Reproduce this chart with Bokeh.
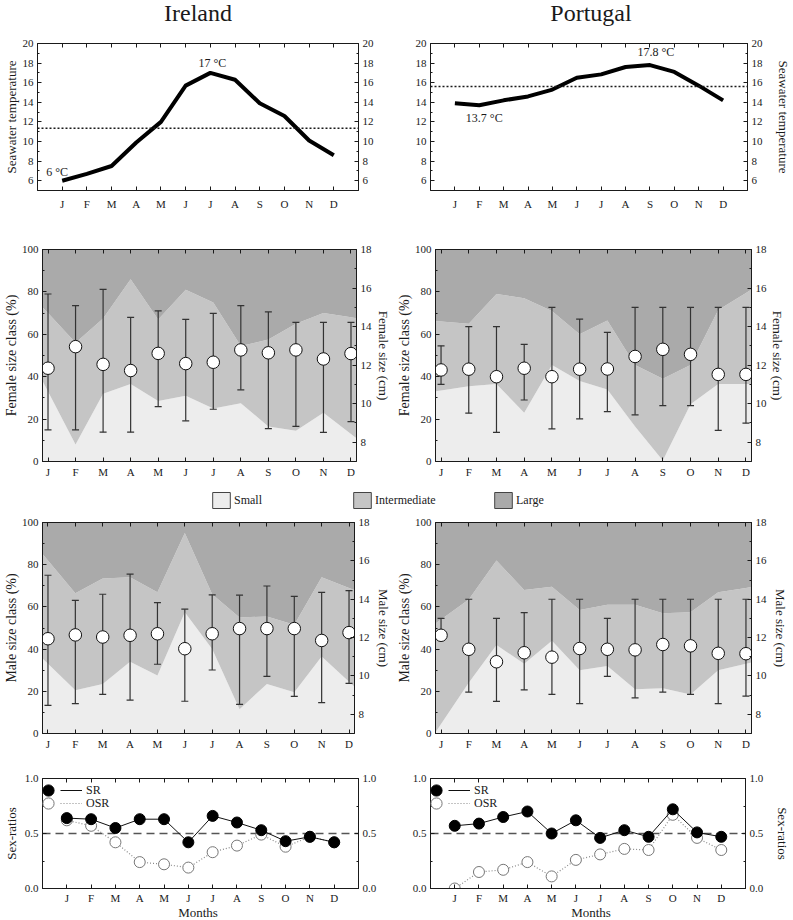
import numpy as np
from bokeh.plotting import figure
from bokeh.models import (LinearAxis, FixedTicker, Range1d, Span, Label, Legend,
                          LegendItem, NumeralTickFormatter)
from bokeh.layouts import column, row
from bokeh.embed import file_html
from bokeh.resources import INLINE

# ---------------------------------------------------------------- data
months = ["J", "F", "M", "A", "M", "J", "J", "A", "S", "O", "N", "D"]
month_no = list(range(1, 13))
countries = ["Ireland", "Portugal"]
size_classes = ["Small", "Intermediate", "Large"]

# seawater temperature (deg C)
temp_ireland = [6.0, 6.7, 7.5, 9.9, 12.0, 15.7, 17.0, 16.3, 13.9, 12.6, 10.1, 8.6]
temp_portugal = [13.9, 13.7, 14.2, 14.6, 15.3, 16.5, 16.85, 17.6, 17.8, 17.1, 15.7, 14.2]
temp_mean_ireland = 11.35
temp_mean_portugal = 15.6

# size-class composition (%) : small, intermediate, large
fem_ire_small = [33, 8, 32, 36.5, 28.5, 31, 25, 27.5, 16.5, 14.5, 23, 13]
fem_ire_inter = [37, 48, 35.5, 49.5, 38.5, 50, 50, 27, 41, 50.5, 47, 55]
fem_ire_large = [30, 44, 32.5, 14, 33, 19, 25, 45.5, 42.5, 35, 30, 32]

fem_por_small = [33.5, 35.5, 36.5, 23, 45.5, 38, 34, 16.5, 0.5, 27, 36.5, 36.5]
fem_por_inter = [32.5, 29.5, 42.5, 54, 25.5, 22, 32.5, 29, 38.5, 18.5, 35, 43]
fem_por_large = [34, 35, 21, 23, 29, 40, 33.5, 54.5, 61, 54.5, 28.5, 20.5]

mal_ire_small = [33, 20.5, 23.5, 34, 27.5, 57.5, 40, 11.5, 23.5, 19.5, 36.5, 24.5]
mal_ire_inter = [49, 46, 50, 40, 39.5, 37.5, 26, 43.5, 32, 32, 37.5, 44.5]
mal_ire_large = [18, 33.5, 26.5, 26, 33, 5, 34, 45, 44.5, 48.5, 26, 31]

mal_por_small = [4.5, 24, 42, 33, 44, 30, 32, 21, 21.5, 18.5, 30, 33]
mal_por_inter = [49.5, 39.5, 40, 35, 25.5, 28.5, 29, 40, 35.5, 39, 37, 36]
mal_por_large = [46, 36.5, 18, 32, 30.5, 41.5, 39, 39, 43, 42.5, 33, 31]

# mean size (cm) with range
fem_ire_mean = [11.84, 12.96, 12.04, 11.72, 12.61, 12.08, 12.15, 12.79, 12.64, 12.79, 12.32, 12.6]
fem_ire_upper = [15.69, 15.09, 15.93, 14.48, 14.82, 14.37, 14.69, 15.09, 14.76, 14.22, 14.22, 14.22]
fem_ire_lower = [8.64, 8.64, 8.52, 8.52, 9.85, 9.11, 9.71, 10.72, 8.71, 8.82, 8.51, 9.07]

fem_por_mean = [11.75, 11.79, 11.4, 11.84, 11.4, 11.79, 11.8, 12.45, 12.82, 12.56, 11.52, 11.52]
fem_por_upper = [13.0, 14.0, 14.0, 13.08, 15.0, 14.39, 13.7, 15.0, 15.0, 15.0, 15.0, 15.0]
fem_por_lower = [11.0, 9.51, 8.51, 10.19, 8.69, 9.21, 9.59, 9.42, 9.9, 9.9, 8.61, 8.99]

mal_ire_mean = [11.94, 12.14, 12.03, 12.12, 12.2, 11.42, 12.2, 12.47, 12.47, 12.47, 11.85, 12.26]
mal_ire_upper = [15.25, 13.94, 14.26, 15.31, 13.82, 13.48, 14.23, 14.21, 14.69, 14.15, 14.36, 14.45]
mal_ire_lower = [8.47, 8.56, 9.04, 8.74, 10.61, 8.68, 10.31, 8.52, 9.98, 8.94, 8.61, 9.61]

mal_por_mean = [12.12, 11.39, 10.74, 11.21, 10.98, 11.43, 11.39, 11.36, 11.64, 11.57, 11.18, 11.16]
mal_por_upper = [13.0, 14.0, 13.0, 13.3, 14.0, 14.0, 13.0, 14.0, 14.0, 14.0, 14.0, 14.0]
mal_por_lower = [12.0, 9.16, 8.67, 9.27, 9.04, 8.56, 9.98, 8.86, 9.16, 9.04, 8.56, 8.95]

# sex ratios
sr_ireland = [0.64, 0.63, 0.55, 0.63, 0.63, 0.42, 0.66, 0.60, 0.53, 0.43, 0.47, 0.42]
osr_ireland = [0.62, 0.57, 0.42, 0.24, 0.22, 0.19, 0.33, 0.39, 0.49, 0.38, 0.47, 0.42]
sr_portugal = [0.57, 0.59, 0.65, 0.70, 0.50, 0.62, 0.46, 0.53, 0.47, 0.72, 0.51, 0.47]
osr_portugal = [0.0, 0.15, 0.17, 0.24, 0.11, 0.26, 0.31, 0.36, 0.35, 0.67, 0.46, 0.35]

# ---------------------------------------------------------------- style
SERIF = "Liberation Serif"
INK = "#1a1a1a"
BAR = "#333333"
C_CLASS = ["#ededed", "#c5c5c5", "#aaaaaa"]
WIDTHS = [393, 400]
BORDER_L = 37
BORDERS = [dict(min_border_left=BORDER_L, min_border_right=35),
           dict(min_border_left=BORDER_L, min_border_right=42)]
FRAME_W = 321
# horizontal centre of each column's plot frame, in page pixels
FRAME_CX = [BORDER_L + FRAME_W / 2, WIDTHS[0] + BORDER_L + FRAME_W / 2]
XLO, XHI = 0.8, 12.2
month_labels = {m: t for m, t in zip(month_no, months)}


def base_figure(ci, height, top, bottom, x_range, y_range, **kw):
    p = figure(width=WIDTHS[ci], height=height, x_range=x_range, y_range=y_range,
               x_axis_type=None, y_axis_type=None, toolbar_location=None,
               output_backend="svg", min_border_top=top, min_border_bottom=bottom,
               **BORDERS[ci], **kw)
    p.outline_line_color = INK
    p.outline_line_width = 1
    p.background_fill_color = "white"
    p.border_fill_color = "white"
    return p


def add_axis(p, side, ticks, minor=(), overrides=None, labels=True, range_name=None,
             label=None, label_standoff=4, label_size="13px", fmt=None, tick_standoff=4):
    kw = {}
    if range_name:
        kw["y_range_name"] = range_name
    ax = LinearAxis(ticker=FixedTicker(ticks=list(ticks), minor_ticks=list(minor)), **kw)
    ax.axis_line_color = INK
    ax.major_tick_line_color = INK
    ax.minor_tick_line_color = INK
    ax.major_tick_in = 4
    ax.major_tick_out = 0
    ax.minor_tick_in = 2
    ax.minor_tick_out = 0
    ax.major_label_text_font = SERIF
    ax.major_label_text_font_size = "11px"
    ax.major_label_text_color = INK if labels else None
    ax.major_label_standoff = tick_standoff if labels else 0
    if overrides:
        ax.major_label_overrides = overrides
    if fmt is not None:
        ax.formatter = fmt
    if label:
        ax.axis_label = label
        ax.axis_label_text_font = SERIF
        ax.axis_label_text_font_size = label_size
        ax.axis_label_text_font_style = "normal"
        ax.axis_label_standoff = label_standoff
        ax.axis_label_text_color = INK
    p.add_layout(ax, side)
    return ax


def text_strip(height, texts, y, size):
    """A frame-only strip carrying one text centred above/below each column."""
    p = figure(width=sum(WIDTHS), height=height, x_range=Range1d(0, 1), y_range=Range1d(0, 1),
               x_axis_type=None, y_axis_type=None, toolbar_location=None,
               output_backend="svg", min_border=0)
    p.outline_line_color = None
    for cx, t in zip(FRAME_CX, texts):
        p.add_layout(Label(x=cx, y=y, x_units="screen", y_units="screen", text=t,
                           text_align="center", text_baseline="middle",
                           text_font=SERIF, text_font_size=size, text_color=INK))
    return p


# ---------------------------------------------------------------- temperature
TEMP_NOTES = {  # (x_offset, y_offset, baseline) for min / max annotations
    0: {"min": (-5, 2, "bottom"), "max": (2, 3, "bottom")},
    1: {"min": (5, -6, "top"), "max": (6, 6, "bottom")},
}


def temp_panel(ci, temps, tmean):
    p = base_figure(ci, 190, 13, 30, Range1d(0, 13), Range1d(5, 20))
    add_axis(p, "below", month_no, overrides=month_labels, tick_standoff=7)
    add_axis(p, "above", month_no, labels=False)
    add_axis(p, "left", range(6, 21, 2), minor=range(7, 20, 2),
             label="Seawater temperature" if ci == 0 else None, label_standoff=1)
    add_axis(p, "right", range(6, 21, 2), minor=range(7, 20, 2),
             label="Seawater temperature" if ci == 1 else None, label_standoff=10)
    p.add_layout(Span(location=tmean, dimension="width", line_color=INK,
                      line_dash="2 2", line_width=1.5))
    p.line(month_no, temps, line_color="black", line_width=4, line_join="round")
    for kind, idx in (("min", int(np.argmin(temps))), ("max", int(np.argmax(temps)))):
        dx, dy, base = TEMP_NOTES[ci][kind]
        p.add_layout(Label(x=month_no[idx], y=temps[idx], text=f"{temps[idx]:g} \u00b0C",
                           x_offset=dx, y_offset=dy, text_align="center", text_baseline=base,
                           text_font=SERIF, text_font_size="12px", text_color=INK))
    return p


# ---------------------------------------------------------------- size panels
def extend(v):
    v = list(v)
    first = v[0] + (v[0] - v[1]) * (1 - XLO)
    last = v[-1] + (v[-1] - v[-2]) * (XHI - 12)
    return np.clip([first] + v + [last], 0, 100)


def size_panel(ci, height, top, bottom, sex, small, inter, mean, upper, lower, rstand):
    p = base_figure(ci, height, top, bottom, Range1d(XLO, XHI), Range1d(0, 100),
                    extra_y_ranges={"cm": Range1d(7, 18)})
    add_axis(p, "below", month_no, overrides=month_labels, tick_standoff=4)
    add_axis(p, "above", month_no, labels=False)
    add_axis(p, "left", range(0, 101, 20), minor=range(10, 100, 20),
             label=f"{sex} size class (%)", label_standoff=0, label_size="14px")
    add_axis(p, "right", range(8, 19, 2), minor=range(9, 18, 2), range_name="cm",
             label=f"{sex} size (cm)", label_standoff=rstand, label_size="13px")
    xa = [XLO] + month_no + [XHI]
    s = extend(small)
    t = extend(np.array(small) + np.array(inter))
    p.varea(x=xa, y1=np.zeros(len(xa)), y2=s, fill_color=C_CLASS[0])
    p.varea(x=xa, y1=s, y2=t, fill_color=C_CLASS[1])
    p.varea(x=xa, y1=t, y2=np.full(len(xa), 100.0), fill_color=C_CLASS[2])
    p.segment(x0=month_no, y0=lower, x1=month_no, y1=upper, y_range_name="cm",
              line_color=BAR, line_width=1.2)
    for ends in (upper, lower):
        p.scatter(month_no, ends, marker="dash", size=7, line_color=BAR,
                  line_width=1.2, y_range_name="cm")
    p.scatter(month_no, mean, marker="circle", size=12.5, fill_color="white",
              line_color="#111111", line_width=1, y_range_name="cm")
    return p


# ---------------------------------------------------------------- sex ratio
def key_legend(renderer, text, loc, glyph_width, standoff):
    return Legend(items=[LegendItem(label=text, renderers=[renderer])], location=loc,
                  padding=0, margin=0, spacing=0, glyph_width=glyph_width, glyph_height=28,
                  label_standoff=standoff, label_width=0,
                  border_line_alpha=0, background_fill_alpha=0,
                  label_text_font=SERIF, label_text_font_size="12px",
                  label_text_color=INK)


def sr_panel(ci, sr, osr):
    p = base_figure(ci, 146, 18, 18, Range1d(0, 13), Range1d(0, 1))
    add_axis(p, "below", month_no, overrides=month_labels, tick_standoff=3)
    add_axis(p, "above", month_no, labels=False)
    add_axis(p, "left", [0, 0.5, 1], minor=[0.25, 0.75], fmt=NumeralTickFormatter(format="0.0"),
             label="Sex-ratios" if ci == 0 else None, label_standoff=3)
    add_axis(p, "right", [0, 0.5, 1], minor=[0.25, 0.75], fmt=NumeralTickFormatter(format="0.0"),
             label="Sex-ratios" if ci == 1 else None, label_standoff=9)
    p.add_layout(Span(location=0.5, dimension="width", line_color="#555555",
                      line_dash="8 5", line_width=1.3, level="underlay"))
    osr_line = p.line(month_no, osr, line_color="#8a8a8a", line_dash="1 2", line_width=1.2)
    osr_pts = p.scatter(month_no, osr, size=11, fill_color="white", line_color="#777777",
                        line_width=1)
    sr_line = p.line(month_no, sr, line_color="#111111", line_width=1)
    sr_pts = p.scatter(month_no, sr, size=11, fill_color="black", line_color="black")
    p.add_layout(key_legend(sr_pts, "", (-8, 84), 28, 0))
    p.add_layout(key_legend(osr_pts, "", (-8, 71), 28, 0))
    p.add_layout(key_legend(sr_line, "SR", (18, 84), 22, 4))
    p.add_layout(key_legend(osr_line, "OSR", (18, 71), 22, 4))
    return p


# ---------------------------------------------------------------- legend strip
def class_legend():
    p = figure(width=sum(WIDTHS), height=30, x_range=Range1d(0, 1), y_range=Range1d(0, 1),
               x_axis_type=None, y_axis_type=None, toolbar_location=None,
               output_backend="svg", min_border=0)
    p.outline_line_color = None
    items = []
    for name, col in zip(size_classes, C_CLASS):
        # key-only renderer: a zero-size quad outside the visible range
        r = p.quad(left=[2], right=[2], top=[2], bottom=[2], fill_color=col,
                   line_color="#444444", line_width=1)
        items.append(LegendItem(label=name, renderers=[r]))
    lg = Legend(items=items, orientation="horizontal", location=(210, 4), padding=0,
                margin=0, spacing=0, glyph_width=22, glyph_height=20, label_standoff=2,
                label_width=117, label_text_font=SERIF, label_text_font_size="12px",
                label_text_color=INK, border_line_alpha=0, background_fill_alpha=0)
    p.add_layout(lg)
    return p


titles = text_strip(30, countries, 18, "24px")

t0 = temp_panel(0, temp_ireland, temp_mean_ireland)
t1 = temp_panel(1, temp_portugal, temp_mean_portugal)

f0 = size_panel(0, 264, 29, 23, "Female", fem_ire_small, fem_ire_inter,
                fem_ire_mean, fem_ire_upper, fem_ire_lower, 1)
f1 = size_panel(1, 264, 29, 23, "Female", fem_por_small, fem_por_inter,
                fem_por_mean, fem_por_upper, fem_por_lower, 0)
m0 = size_panel(0, 246, 8, 27, "Male", mal_ire_small, mal_ire_inter,
                mal_ire_mean, mal_ire_upper, mal_ire_lower, 3)
m1 = size_panel(1, 246, 8, 27, "Male", mal_por_small, mal_por_inter,
                mal_por_mean, mal_por_upper, mal_por_lower, 3)

s0 = sr_panel(0, sr_ireland, osr_ireland)
s1 = sr_panel(1, sr_portugal, osr_portugal)

months_strip = text_strip(14, ["Months", "Months"], 8, "13px")

layout = column(titles, row(t0, t1), row(f0, f1), class_legend(), row(m0, m1),
                row(s0, s1), months_strip)

open("out.html", "w").write(file_html(layout, INLINE))
